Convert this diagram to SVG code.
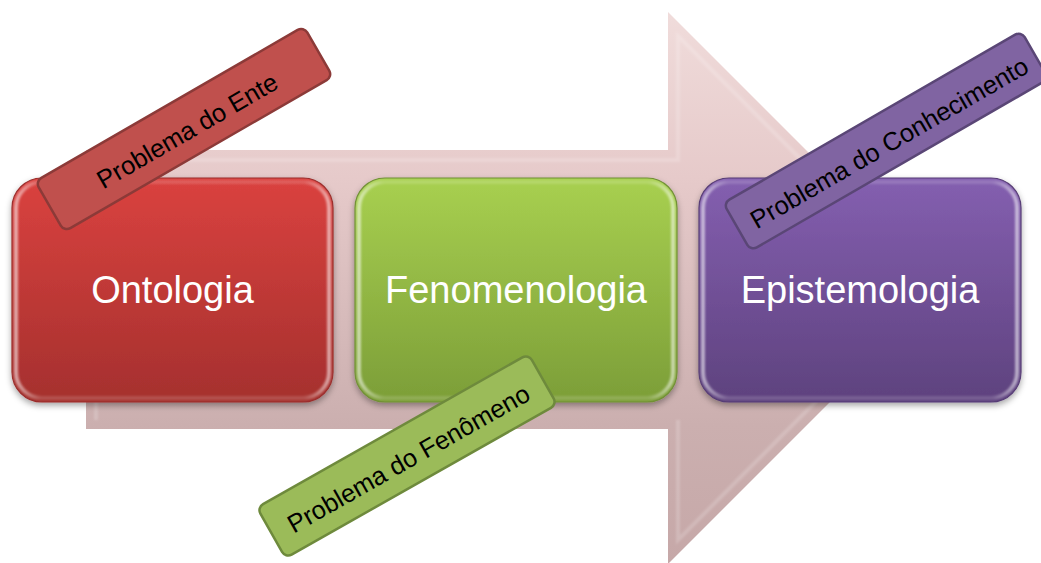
<svg xmlns="http://www.w3.org/2000/svg" width="1041" height="563" viewBox="0 0 1041 563">
  <defs>
    <linearGradient id="arrowFill" gradientUnits="userSpaceOnUse" x1="0" y1="12" x2="0" y2="563">
      <stop offset="0" stop-color="#F0DCDB"/>
      <stop offset="0.3" stop-color="#E6CACA"/>
      <stop offset="0.75" stop-color="#CBAFAF"/>
      <stop offset="1" stop-color="#C6A8A8"/>
    </linearGradient>
    <linearGradient id="redFill" x1="0" y1="0" x2="0" y2="1">
      <stop offset="0" stop-color="#DA423F"/>
      <stop offset="1" stop-color="#A5302E"/>
    </linearGradient>
    <linearGradient id="greenFill" x1="0" y1="0" x2="0" y2="1">
      <stop offset="0" stop-color="#A8D050"/>
      <stop offset="1" stop-color="#7C9E38"/>
    </linearGradient>
    <linearGradient id="purpleFill" x1="0" y1="0" x2="0" y2="1">
      <stop offset="0" stop-color="#845FB0"/>
      <stop offset="1" stop-color="#5E427E"/>
    </linearGradient>
    <linearGradient id="rimLight" x1="0" y1="0" x2="1" y2="0">
      <stop offset="0" stop-color="#FFFFFF" stop-opacity="0.55"/>
      <stop offset="0.08" stop-color="#FFFFFF" stop-opacity="0.15"/>
      <stop offset="0.92" stop-color="#FFFFFF" stop-opacity="0.15"/>
      <stop offset="1" stop-color="#FFFFFF" stop-opacity="0.55"/>
    </linearGradient>
    <filter id="shadow" x="-10%" y="-10%" width="120%" height="125%">
      <feDropShadow dx="0" dy="3" stdDeviation="3" flood-color="#000000" flood-opacity="0.35"/>
    </filter>
    <filter id="soft" x="-10%" y="-10%" width="120%" height="120%">
      <feGaussianBlur stdDeviation="1.2"/>
    </filter>
  </defs>
  <style>
    .box { stroke-width: 1.2; filter: url(#shadow); }
    .rim { fill: none; stroke: url(#rimLight); stroke-width: 4; filter: url(#soft); }
    .title { font-family: "Liberation Sans", Arial, sans-serif; font-size: 38px; fill: #FFFFFF; text-anchor: middle; }
    .tag { stroke-width: 2.5; }
    .tagText { font-family: "Liberation Sans", Arial, sans-serif; font-size: 25.5px; fill: #000000; text-anchor: middle; dominant-baseline: central; }
  </style>

  <rect width="1041" height="563" fill="#FFFFFF"/>

  <!-- broad flow arrow behind the three stages -->
  <g id="connectors">
    <polygon points="86,150 668,150 668,12 944,288 668,564 668,429 86,429" fill="url(#arrowFill)"/>
    <polyline points="96,420 96,160 678,160 678,36 929,288 678,540 678,420" fill="none" stroke="#FFFFFF" stroke-opacity="0.18" stroke-width="4" filter="url(#soft)"/>
    <polyline points="96,420 678,420" fill="none" stroke="#8A6A6A" stroke-opacity="0.12" stroke-width="3" filter="url(#soft)"/>
  </g>

  <!-- stage boxes -->
  <g id="ontologia">
    <rect class="box" x="12" y="178" width="321" height="224" rx="30" fill="url(#redFill)" stroke="#9A2C2A"/>
    <rect class="rim" x="16" y="182" width="313" height="216" rx="26"/>
    <text class="title" x="172.5" y="303">Ontologia</text>
  </g>
  <g id="fenomenologia">
    <rect class="box" x="355" y="178" width="322" height="224" rx="30" fill="url(#greenFill)" stroke="#6F8F33"/>
    <rect class="rim" x="359" y="182" width="314" height="216" rx="26"/>
    <text class="title" x="516" y="303">Fenomenologia</text>
  </g>
  <g id="epistemologia">
    <rect class="box" x="699" y="178" width="322" height="224" rx="30" fill="url(#purpleFill)" stroke="#553B74"/>
    <rect class="rim" x="703" y="182" width="314" height="216" rx="26"/>
    <text class="title" x="860" y="303">Epistemologia</text>
  </g>

  <!-- tilted problem tags -->
  <g id="problema-ente" transform="translate(184,129) rotate(-30)">
    <rect class="tag" x="-155" y="-29" width="310" height="58" rx="7" fill="#C0504D" stroke="#8C3A38"/>
    <text class="tagText" x="2" y="3">Problema do Ente</text>
  </g>
  <g id="problema-fenomeno" transform="translate(407,456) rotate(-29.5)">
    <rect class="tag" x="-156" y="-29" width="312" height="58" rx="7" fill="#9BBB59" stroke="#6E8A3C"/>
    <text class="tagText" x="0" y="3">Problema do Fenômeno</text>
  </g>
  <g id="problema-conhecimento" transform="translate(886,141) rotate(-30)">
    <rect class="tag" x="-172" y="-27.5" width="344" height="55" rx="7" fill="#8064A2" stroke="#5A4676"/>
    <text class="tagText" x="2" y="3">Problema do Conhecimento</text>
  </g>
</svg>
